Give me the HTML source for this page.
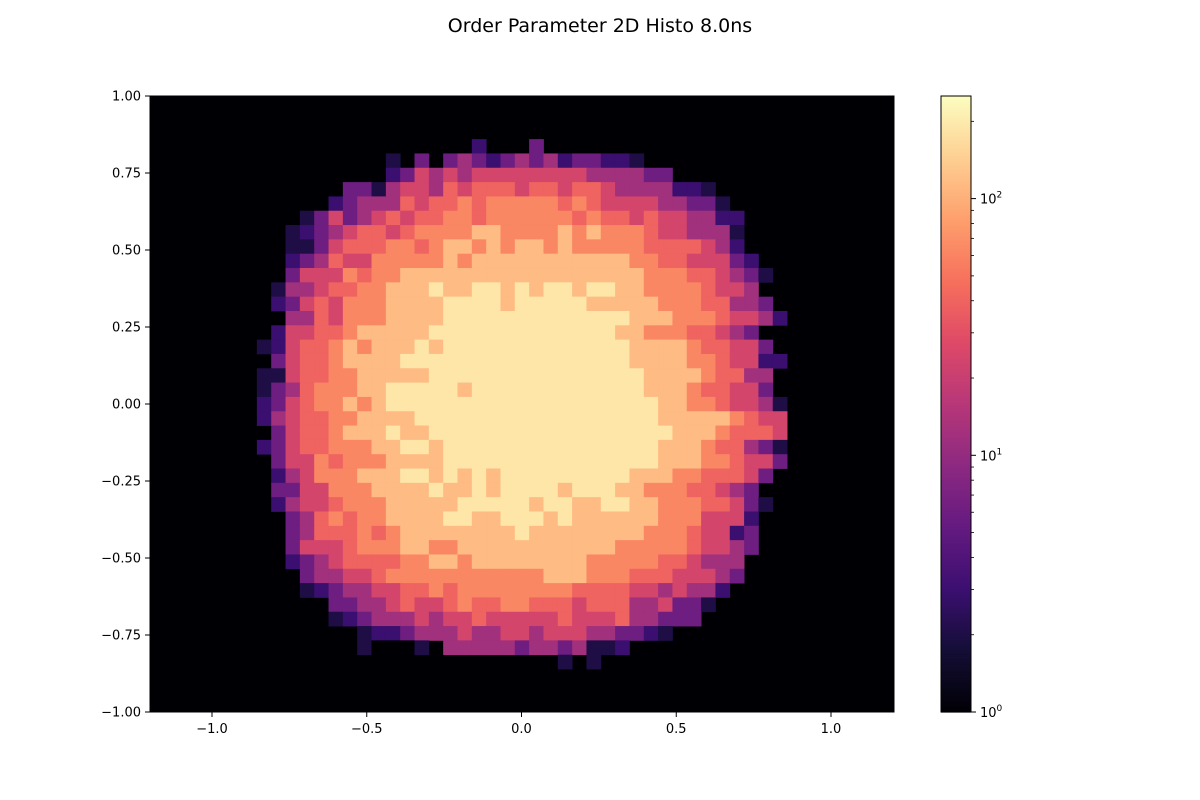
<!DOCTYPE html>
<html><head><meta charset="utf-8"><style>
html,body{margin:0;padding:0;background:#fff;}
svg{display:block;font-family:"DejaVu Sans","Liberation Sans",sans-serif;}
</style></head><body>
<svg id="chart" width="1200" height="800" viewBox="0 0 1200 800">
<text x="600" y="32" text-anchor="middle" font-size="19" fill="#000">Order Parameter 2D Histo 8.0ns</text>
<rect x="150" y="96" width="744" height="616" fill="#000004"/>
<g id="cells"></g>
<rect x="150" y="96" width="744" height="616" fill="none" stroke="#000" stroke-width="1"/>
<g id="xaxis"></g>
<g id="yaxis"></g>
<g id="cbar"></g>
</svg>
<script>
// levels: '.' empty, digits index into levelCounts
const levelCounts = [1,2,3,6,12,24,40,63,115,190];
const gridRows = [
"...............2...3.................",
".........1.3.34323434233221..........",
".........23545455555555444433........",
"......33145546566656656654444221.....",
".....2344465667677777676555544331....",
"...1353456566776777777676656554422...",
"..12345665677778877778787776554441...",
"..11356667767887878878777776666542...",
"..234655777778788888888888776655532..",
"..3555767788888888888888888777665431.",
".1445667788898899898998998877776554..",
".23565777888899998999998888877766443.",
"..44657778888999999999999988877765542.",
".25566788888999999999999988777665 43.".replace(" ",""),
"1256678788898999999999999988887665 53.".replace(" ",""),
".356678888999999999999999988887765522",
"115667788888999999999999999888876644.",
"134677788999998999999999999888766553.",
"235677878999999999999999999988776554 1".replace(" ",""),
"2456677888899999999999999999888887655 3.".replace(" ","").slice(0,37),
".3566788898899999999999999999888766653.".slice(0,37),
"2356677788998999999999999999888766431",
".355767778888999999999999999888776553.".slice(0,37),
".245777888998989899999999988877666 53.".replace(" ",""),
".33557778888988989999899988777665 43.".replace(" ",""),
".24556777888889999989988998877766531.",
"..346767788889988999898888887775552..",
"..3466676788888888988888888777655 23..".replace(" ",""),
"..35556777887788888888888777776 55 43..".replace(/ /g,""),
"..234566667788788888888777776654 44...".replace(" ",""),
"...344556777777777778887776665554 3...".replace(" ",""),
"...1234455667677777777666655454 42....".replace(" ",""),
".....33445655676677666566644 5331.....".replace(" ",""),
".....12344454556555556555644333......",
".......1223444544554555443321........",
".......10001.4444434434112...........",
".....................1.1............."
];
const xEdge0 = -0.855, binDX = 0.0463;
const yEdgeTop = 0.860, binDY = 0.0465;
const xTicks = [-1.0,-0.5,0.0,0.5,1.0];
const xTickLabels = ["\u22121.0","\u22120.5","0.0","0.5","1.0"];
const yTicks = [1.0,0.75,0.5,0.25,0.0,-0.25,-0.5,-0.75,-1.0];
const yTickLabels = ["1.00","0.75","0.50","0.25","0.00","\u22120.25","\u22120.50","\u22120.75","\u22121.00"];
const vmax = 251;

const NS="http://www.w3.org/2000/svg";
function xs(v){return 212+(v+1)*309.5;}
function ys(v){return 712-(v+1)*308;}
const magmaStops=["#000004","#140e36","#3b0f70","#641a80","#8c2981","#b73779","#de4968","#f7705c","#fe9f6d","#fecf92","#fcfdbf"];
function hex(h){return [parseInt(h.substr(1,2),16),parseInt(h.substr(3,2),16),parseInt(h.substr(5,2),16)];}
function magma(f){f=Math.max(0,Math.min(1,f));const p=f*10,i=Math.min(9,Math.floor(p)),t=p-i;const a=hex(magmaStops[i]),b=hex(magmaStops[i+1]);return "rgb("+a.map((c,k)=>Math.round(c+(b[k]-c)*t)).join(",")+")";}
function cfrac(v){return Math.log10(v)/Math.log10(vmax);}
function mk(tag,attrs,parent){const e=document.createElementNS(NS,tag);for(const k in attrs)e.setAttribute(k,attrs[k]);parent.appendChild(e);return e;}

const cells=document.getElementById('cells');
gridRows.forEach((row,r)=>{
  for(let c=0;c<row.length;c++){
    const ch=row[c]; if(ch==='.') continue;
    const v=levelCounts[+ch];
    const x1=xs(xEdge0+c*binDX), x2=xs(xEdge0+(c+1)*binDX);
    const y1=ys(yEdgeTop-r*binDY), y2=ys(yEdgeTop-(r+1)*binDY);
    const e=mk('rect',{x:x1.toFixed(2),y:y1.toFixed(2),width:(x2-x1+0.4).toFixed(2),height:(y2-y1+0.4).toFixed(2),fill:magma(cfrac(v))},cells);
    
    
  }
});

const xa=document.getElementById('xaxis');
xTicks.forEach((t,i)=>{
  const x=xs(t);
  const l=mk('line',{x1:x,x2:x,y1:712,y2:717,stroke:"#000","stroke-width":1},xa);
  
  
  const tx=mk('text',{x:x,y:733,"text-anchor":"middle","font-size":13,fill:"#000"},xa);
  tx.textContent=xTickLabels[i];
  
  
});
const ya=document.getElementById('yaxis');
yTicks.forEach((t,i)=>{
  const y=ys(t);
  const l=mk('line',{x1:145,x2:150,y1:y,y2:y,stroke:"#000","stroke-width":1},ya);
  
  
  const tx=mk('text',{x:141,y:y+4.5,"text-anchor":"end","font-size":13,fill:"#000"},ya);
  tx.textContent=yTickLabels[i];
  
  
});

const cb=document.getElementById('cbar');
const cbx=941,cbw=30,cbTop=96,cbBot=712;
for(let i=0;i<308;i++){
  const y=cbBot-(i+1)*2;
  mk('rect',{x:cbx,y:y,width:cbw,height:2.6,fill:magma((i+0.5)/308)},cb);
}
const fr=mk('rect',{x:cbx,y:cbTop,width:cbw,height:cbBot-cbTop,fill:"none",stroke:"#000","stroke-width":1},cb);


function cy(v){return cbBot-cfrac(v)*(cbBot-cbTop);}
[1,10,100].forEach((v,i)=>{
  const y=cy(v);
  mk('line',{x1:971,x2:976,y1:y,y2:y,stroke:"#000"},cb);
  const t=mk('text',{x:980,y:y+5,"font-size":13,fill:"#000"},cb);
  t.textContent="10";
  const s=mk('tspan',{dy:-6,"font-size":9},t);
  s.textContent=String(i);
  
  
});
[2,3,4,5,6,7,8,9,20,30,40,50,60,70,80,90,200].forEach(v=>{
  const y=cy(v);
  mk('line',{x1:971,x2:974,y1:y,y2:y,stroke:"#000","stroke-width":0.8},cb);
});
</script>
</body></html>
